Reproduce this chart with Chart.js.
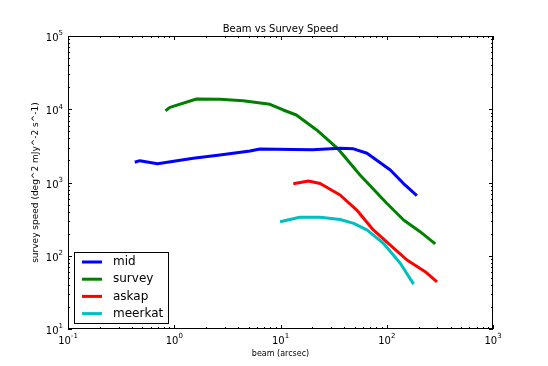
<!DOCTYPE html>
<html>
<head>
<meta charset="utf-8">
<script src="https://cdn.jsdelivr.net/npm/chart.js@4"></script>
<style>
body { margin: 0; background: #fff; }
#wrap { width: 548px; height: 366px; }
</style>
</head>
<body>
<div id="wrap"><canvas id="chart" width="548" height="366"></canvas></div>
<script>
const seriesNames = ['mid', 'survey', 'askap', 'meerkat']
const seriesColors = ['#0000ff', '#008000', '#ff0000', '#00bfbf']

const midBeam = [0.425, 0.474, 0.696, 1.51, 2.69, 5.16, 6.41, 13.2, 20, 36.4, 48.7, 65.2, 108, 143, 192]
const midSpeed = [1888, 1987, 1807, 2138, 2373, 2692, 2866, 2820, 2790, 2932, 2880, 2506, 1483, 975, 661]

const surveyBeam = [0.828, 0.91, 1.62, 2.69, 4.45, 7.96, 10.6, 14.1, 21.9, 34.4, 56, 100, 144, 206, 286]
const surveySpeed = [9560, 10600, 13800, 13700, 13100, 11700, 9770, 8340, 5210, 2930, 1265, 520, 308, 213, 145]

const askapBeam = [13.2, 18.3, 23.6, 36.4, 52.2, 74.7, 108, 155, 230, 297]
const askapSpeed = [964, 1047, 970, 675, 421, 225, 140, 87.5, 60.5, 44]

const meerkatBeam = [9.9, 15.2, 23.6, 36.4, 48.8, 65, 93, 134, 179]
const meerkatSpeed = [292, 335, 335, 312, 277, 225, 148, 79, 41]

const xTickValues = [0.1, 1, 10, 100, 1000]
const xTickExps = ['-1', '0', '1', '2', '3']
const yTickValues = [10, 100, 1000, 10000, 100000]
const yTickExps = ['1', '2', '3', '4', '5']

const FONT = '"DejaVu Sans", "Liberation Sans", sans-serif'

function toPoints(xs, ys){
    return xs.map((x, i) => ({x: x, y: ys[i]}))
}

const allBeams = [midBeam, surveyBeam, askapBeam, meerkatBeam]
const allSpeeds = [midSpeed, surveySpeed, askapSpeed, meerkatSpeed]

let datasets = seriesNames.map((name, i) => ({
    label: name,
    data: toPoints(allBeams[i], allSpeeds[i]),
    borderColor: seriesColors[i],
    backgroundColor: seriesColors[i],
    borderWidth: 3,
    pointRadius: 0,
    tension: 0,
    fill: false,
    borderJoinStyle: 'round'
}))

// "10" with a raised exponent, like matplotlib's log labels
function drawPow(ctx, exp, x, y, align){
    ctx.font = '10px ' + FONT
    let wBase = ctx.measureText('10').width
    ctx.font = '7px ' + FONT
    let wExp = ctx.measureText(exp).width
    let total = wBase + wExp
    let left = align == 'right' ? x - total : x - total / 2
    ctx.textAlign = 'left'
    ctx.textBaseline = 'middle'
    ctx.fillStyle = '#000'
    ctx.font = '10px ' + FONT
    ctx.fillText('10', left, y)
    ctx.font = '7px ' + FONT
    ctx.fillText(exp, left + wBase, y - 5)
}

const axesPlugin = {
    id: 'axesPlugin',
    afterDatasetsDraw(chart){
        const ctx = chart.ctx
        const a = chart.chartArea
        const xs = chart.scales.x
        const ys = chart.scales.y
        ctx.save()

        // ticks, pointing inwards on all four sides
        ctx.strokeStyle = '#000'
        ctx.lineWidth = 1
        ctx.beginPath()
        for(let d = 0; d < xTickValues.length; d++){
            let base = xTickValues[d]
            for(let k = 1; k <= 9; k++){
                let v = base * k
                if(v > xTickValues[xTickValues.length - 1]) break
                let px = Math.round(xs.getPixelForValue(v)) + 0.5
                let len = k == 1 ? 4 : 2
                ctx.moveTo(px, a.bottom); ctx.lineTo(px, a.bottom - len)
                ctx.moveTo(px, a.top); ctx.lineTo(px, a.top + len)
            }
        }
        for(let d = 0; d < yTickValues.length; d++){
            let base = yTickValues[d]
            for(let k = 1; k <= 9; k++){
                let v = base * k
                if(v > yTickValues[yTickValues.length - 1]) break
                let py = Math.round(ys.getPixelForValue(v)) + 0.5
                let len = k == 1 ? 4 : 2
                ctx.moveTo(a.left, py); ctx.lineTo(a.left + len, py)
                ctx.moveTo(a.right, py); ctx.lineTo(a.right - len, py)
            }
        }
        ctx.stroke()

        // frame
        ctx.strokeRect(a.left + 0.5, a.top + 0.5, a.right - a.left - 1, a.bottom - a.top - 1)

        // tick labels
        xTickValues.forEach((v, i) => {
            drawPow(ctx, xTickExps[i], xs.getPixelForValue(v), a.bottom + 12, 'center')
        })
        yTickValues.forEach((v, i) => {
            drawPow(ctx, yTickExps[i], a.left - 5, ys.getPixelForValue(v) + 2.5, 'right')
        })

        // legend, lower left inside the axes
        let bx = a.left + 6
        let bw = 94
        let rowH = 17.2
        let bh = 71
        let by = a.bottom - 6 - bh
        ctx.fillStyle = '#fff'
        ctx.fillRect(bx, by, bw, bh)
        ctx.strokeStyle = '#000'
        ctx.lineWidth = 1
        ctx.strokeRect(bx + 0.5, by + 0.5, bw, bh)
        chart.data.datasets.forEach((ds, i) => {
            let ry = by + 10 + i * rowH
            ctx.strokeStyle = ds.borderColor
            ctx.lineWidth = 3
            ctx.beginPath()
            ctx.moveTo(bx + 8, ry); ctx.lineTo(bx + 28, ry)
            ctx.stroke()
            ctx.fillStyle = '#000'
            ctx.font = '12px ' + FONT
            ctx.textAlign = 'left'
            ctx.textBaseline = 'middle'
            ctx.fillText(ds.label, bx + 39, ry)
        })
        ctx.restore()
    }
}

new Chart(document.getElementById('chart').getContext('2d'), {
    type: 'line',
    data: { datasets: datasets },
    options: {
        responsive: false,
        animation: false,
        layout: { padding: { left: 13, right: 55, top: 0, bottom: 0 } },
        plugins: {
            legend: { display: false },
            tooltip: { enabled: false },
            title: {
                display: true,
                fullSize: false,
                text: 'Beam vs Survey Speed',
                color: '#000',
                font: { family: FONT, size: 10, weight: 'normal', lineHeight: 1.2 },
                padding: { top: 23, bottom: 1 }
            }
        },
        scales: {
            x: {
                type: 'logarithmic',
                min: 0.1,
                max: 1000,
                grid: { display: false, drawTicks: false },
                border: { display: false },
                ticks: { display: false },
                title: {
                    display: true,
                    text: 'beam (arcsec)',
                    color: '#000',
                    font: { family: FONT, size: 8 },
                    padding: { top: 0, bottom: 7 }
                },
                afterFit(s){ s.height = 37 }
            },
            y: {
                type: 'logarithmic',
                min: 10,
                max: 100000,
                grid: { display: false, drawTicks: false },
                border: { display: false },
                ticks: { display: false },
                title: {
                    display: true,
                    text: 'survey speed (deg^2 mJy^-2 s^-1)',
                    color: '#000',
                    font: { family: FONT, size: 9 },
                    padding: { top: 17, bottom: 0 }
                },
                afterFit(s){ s.width = 55 }
            }
        }
    },
    plugins: [axesPlugin]
})
</script>
</body>
</html>
